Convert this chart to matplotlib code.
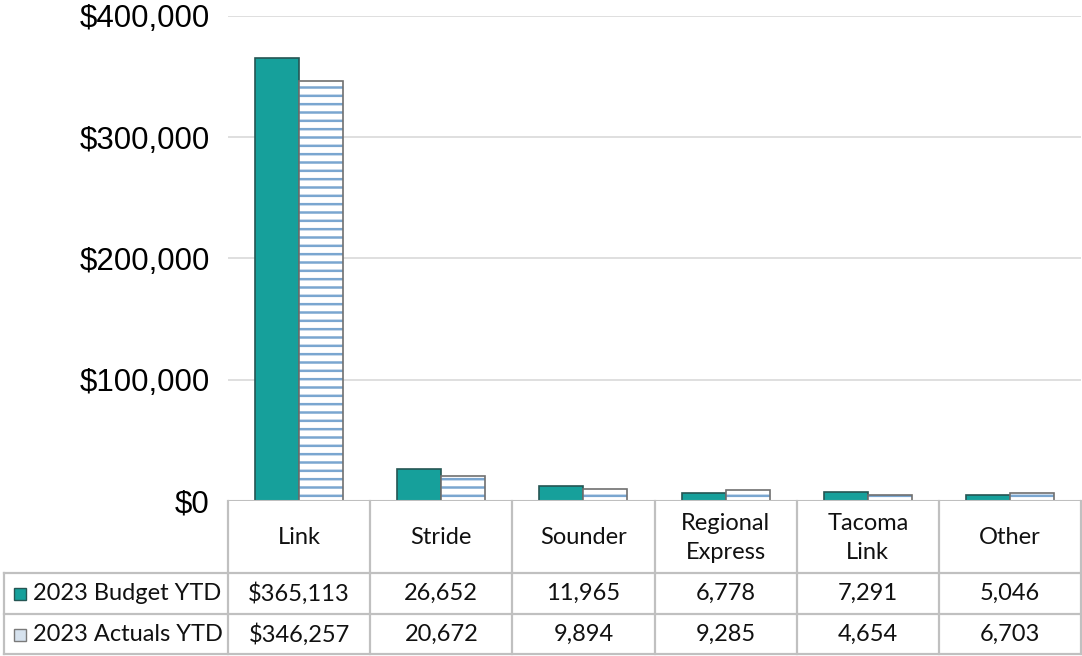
import matplotlib
matplotlib.use("Agg")
import matplotlib.pyplot as plt
from matplotlib.lines import Line2D
from matplotlib.patches import Rectangle
import matplotlib.transforms as mtransforms
import numpy as np

categories = ["Link", "Stride", "Sounder", "Regional\nExpress", "Tacoma\nLink", "Other"]
budget = [365113, 26652, 11965, 6778, 7291, 5046]
actuals = [346257, 20672, 9894, 9285, 4654, 6703]
budget_labels = ["$365,113", "26,652", "11,965", "6,778", "7,291", "5,046"]
actual_labels = ["$346,257", "20,672", "9,894", "9,285", "4,654", "6,703"]
series_names = ["2023 Budget YTD", "2023 Actuals YTD"]
yticks = [0, 100000, 200000, 300000, 400000]
ytick_labels = ["$0", "$100,000", "$200,000", "$300,000", "$400,000"]

plt.rcParams["hatch.linewidth"] = 1.8

W, H = 1082, 656
fig = plt.figure(figsize=(W / 100, H / 100), dpi=100)
ax_l, ax_r, ax_t, ax_b = 228, 1081, 16, 501
ax = fig.add_axes([ax_l / W, 1 - ax_b / H, (ax_r - ax_l) / W, (ax_b - ax_t) / H])

teal = "#16a09b"
x = np.arange(len(categories))
bw = 0.31
ax.bar(x - bw / 2, budget, bw, color=teal, edgecolor="#255553", linewidth=1.2, zorder=3)
# hatched fill (hatch colour follows edge colour), then a grey outline on top
ax.bar(x + bw / 2, actuals, bw, color="white", edgecolor="#7aa6d0", linewidth=0,
       hatch="--", zorder=3)
ax.bar(x + bw / 2, actuals, bw, color="none", edgecolor="#707070", linewidth=1.2, zorder=3.5)

ax.set_xlim(-0.5, len(categories) - 0.5)
ax.set_ylim(0, 400000)
ax.set_yticks(yticks)
ax.set_yticklabels(ytick_labels, fontsize=22.5, family="Liberation Sans")
ax.tick_params(axis="y", length=0, pad=13)
ax.set_xticks([])
ax.yaxis.grid(True, color="#d9d9d9", linewidth=1.2, zorder=0)
for s in ax.spines.values():
    s.set_visible(False)
ax.axhline(0, color="#bfbfbf", linewidth=1.5, zorder=4)

# table
line_c = "#c0c0c0"
hdr_h, row_h = 72, 41
tr = mtransforms.blended_transform_factory(ax.transData, fig.transFigure)
def fy(py):
    return 1 - py / H

y_hdr_bot = ax_b + hdr_h
y_r1_bot = y_hdr_bot + row_h
y_r2_bot = y_r1_bot + row_h - 1

tfont = dict(family=["Lato", "DejaVu Sans"], fontsize=17, color="#111111")
for i in range(len(categories) + 1):
    xb = i - 0.5
    fig.add_artist(Line2D([xb, xb], [fy(ax_b), fy(y_r2_bot)], transform=tr, color=line_c, lw=1.6))
for yy in [y_hdr_bot, y_r1_bot, y_r2_bot]:
    fig.add_artist(Line2D([4 / W, ax_r / W], [fy(yy), fy(yy)], transform=fig.transFigure,
                          color=line_c, lw=1.6))
fig.add_artist(Line2D([4 / W, 4 / W], [fy(y_hdr_bot), fy(y_r2_bot)], transform=fig.transFigure,
                      color=line_c, lw=1.6))

for i, c in enumerate(categories):
    fig.text(i, fy(ax_b + hdr_h / 2 + 1), c, transform=tr, ha="center", va="center",
             linespacing=1.45, **tfont)
    fig.text(i, fy(y_hdr_bot + row_h / 2), budget_labels[i], transform=tr, ha="center",
             va="center", **tfont)
    fig.text(i, fy(y_r1_bot + row_h / 2), actual_labels[i], transform=tr, ha="center",
             va="center", **tfont)

# legend keys + row labels
k = 12
for j, (name, yy) in enumerate([(series_names[0], y_hdr_bot), (series_names[1], y_r1_bot)]):
    cy = yy + row_h / 2
    fc = teal if j == 0 else "#d6e2ee"
    ec = "#255553" if j == 0 else "#7a7a7a"
    fig.add_artist(Rectangle((14 / W, fy(cy + k / 2)), k / W, k / H, transform=fig.transFigure,
                             facecolor=fc, edgecolor=ec, lw=1))
    fig.text(33 / W, fy(cy), name, ha="left", va="center", **tfont)

fig.savefig("out.png", dpi=100)
